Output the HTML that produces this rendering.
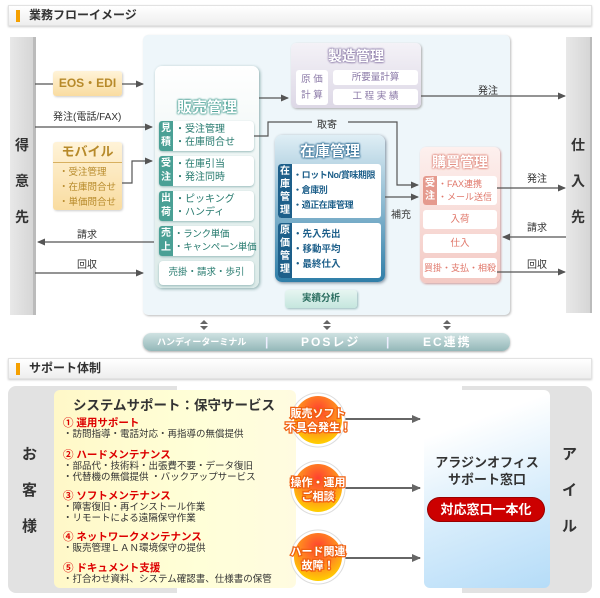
<!DOCTYPE html>
<html><head><meta charset="utf-8"><style>
*{margin:0;padding:0;box-sizing:border-box}
body{width:600px;height:598px;background:#fff;position:relative;overflow:hidden;font-family:"Liberation Sans","Noto Sans CJK JP",sans-serif;color:#333}
.a{position:absolute}
.hd{position:absolute;left:8px;width:584px;height:21px;background:linear-gradient(#fff,#eee);border:1px solid #e2e2e2;box-shadow:0 1px 2px #ccc;font-size:12px;font-weight:bold;line-height:19px;padding-left:20px;color:#333}
.hd:before{content:"";position:absolute;left:7px;top:4px;width:4px;height:12px;background:#f5a000}
.col{position:absolute;background:linear-gradient(90deg,#e8e8e8,#d6d6d6);border-right:3px solid #bbb;font-size:14px;font-weight:bold;text-align:center}
.t{position:absolute;font-size:10px;color:#333;white-space:nowrap}
.row{position:absolute;background:#fff;border-radius:4px;box-shadow:0 1px 2px #9bb;font-size:10px;color:#267a6e}
.lab{position:absolute;left:0;top:0;bottom:0;width:14px;background:#4aa095;color:#fff;font-size:10px;font-weight:bold;text-align:center;line-height:14px;padding-top:1px;border-radius:3px 0 0 3px}
.ttl{position:absolute;left:0;right:0;text-align:center;font-weight:bold;font-size:15px;color:#fff}
</style></head><body>

<div class="hd" style="top:5px">業務フローイメージ</div>

<div class="col" style="left:10px;top:37px;width:26px;height:278px;"><div class="a" style="left:5px;top:90px;line-height:36px">得<br>意<br>先</div></div>
<div class="col" style="left:566px;top:37px;width:26px;height:276px;border-right:2px solid #bbb"><div class="a" style="left:5px;top:90px;line-height:36px">仕<br>入<br>先</div></div>

<div class="a" style="left:143px;top:35px;width:367px;height:280px;background:#eef6fa;border-radius:5px;box-shadow:1px 1px 2px #bbb"></div>

<div class="a" style="left:53px;top:71px;width:69px;height:25px;background:linear-gradient(#fff3d8,#f9dca0);border-radius:3px;box-shadow:1px 1px 2px #ccc;color:#b78a2a;font-weight:bold;font-size:12px;text-align:center;line-height:25px">EOS・EDI</div>
<div class="a" style="left:53px;top:142px;width:69px;height:68px;background:linear-gradient(#fff3d8,#f9dca0);border-radius:3px;box-shadow:1px 1px 2px #ccc;color:#b78a2a;font-size:9.5px">
<div style="text-align:center;font-weight:bold;font-size:13px;line-height:20px;border-bottom:1px solid #d8b060">モバイル</div>
<div style="padding-left:6px;line-height:15px;padding-top:2px">・受注管理<br>・在庫問合せ<br>・単価問合せ</div></div>

<div class="t" style="left:53px;top:108px">発注(電話/FAX)</div>
<div class="t" style="left:77px;top:226px">請求</div>
<div class="t" style="left:77px;top:256px">回収</div>

<div class="a" style="left:155px;top:66px;width:104px;height:222px;background:linear-gradient(#fff,#dbeae8);border-radius:7px;box-shadow:1px 1px 3px #8aa"></div>
<div class="ttl" style="left:155px;width:104px;top:96px;color:#fff;text-shadow:0 0 2px #4aa095,0 0 2px #4aa095,0 0 2px #4aa095">販売管理</div>
<div class="row" style="left:159px;top:121px;width:95px;height:30px"><div class="lab">見<br>積</div><div style="padding-left:16px;line-height:13px;padding-top:2px">・受注管理<br>・在庫問合せ</div></div>
<div class="row" style="left:159px;top:156px;width:95px;height:30px"><div class="lab">受<br>注</div><div style="padding-left:16px;line-height:13px;padding-top:2px">・在庫引当<br>・発注同時</div></div>
<div class="row" style="left:159px;top:191px;width:95px;height:30px"><div class="lab">出<br>荷</div><div style="padding-left:16px;line-height:13px;padding-top:2px">・ピッキング<br>・ハンディ</div></div>
<div class="row" style="left:159px;top:226px;width:95px;height:30px"><div class="lab">売<br>上</div><div style="padding-left:15px;line-height:13px;padding-top:2px;white-space:nowrap;font-size:9.5px;letter-spacing:-0.3px">・ランク単価<br>・キャンペーン単価</div></div>
<div class="row" style="left:159px;top:261px;width:95px;height:24px;text-align:center;line-height:24px;font-size:9.5px">売掛・請求・歩引</div>

<div class="a" style="left:291px;top:43px;width:130px;height:65px;background:linear-gradient(#f4f2f7,#ddd8e6);border-radius:5px;box-shadow:1px 1px 2px #aaa"></div>
<div class="ttl" style="left:291px;width:130px;top:46px;font-size:14px;text-shadow:0 0 2px #8c7ba8,0 0 2px #8c7ba8,0 0 2px #8c7ba8">製造管理</div>
<div class="a" style="left:296px;top:70px;width:32px;height:35px;background:#fff;border-radius:3px;font-size:9.5px;color:#8c7ba8;text-align:center;line-height:16px;padding-top:2px">原 価<br>計 算</div>
<div class="a" style="left:333px;top:70px;width:85px;height:15px;background:#fff;border-radius:3px;font-size:9.5px;color:#8c7ba8;text-align:center;line-height:15px">所要量計算</div>
<div class="a" style="left:333px;top:89px;width:85px;height:16px;background:#fff;border-radius:3px;font-size:9.5px;color:#8c7ba8;text-align:center;line-height:16px">工 程 実 績</div>

<div class="a" style="left:275px;top:135px;width:110px;height:147px;background:linear-gradient(#dfeef5,#2f7ea8);border-radius:7px;box-shadow:1px 1px 3px #789"></div>
<div class="ttl" style="left:275px;width:110px;top:140px;font-size:15px;text-shadow:0 0 2px #1d5f8a,0 0 2px #1d5f8a,0 0 2px #1d5f8a">在庫管理</div>
<div class="a" style="left:278px;top:164px;width:103px;height:54px;background:#fff;border-radius:3px;font-size:9px;color:#1d5f8a;font-weight:bold;overflow:hidden">
<div class="lab" style="background:#1d5f8a;width:14px;line-height:13px">在<br>庫<br>管<br>理</div><div style="padding-left:15px;line-height:15px;padding-top:4px;white-space:nowrap;letter-spacing:-0.4px">・ロットNo/賞味期限<br>・倉庫別<br>・適正在庫管理</div></div>
<div class="a" style="left:278px;top:223px;width:103px;height:55px;background:#fff;border-radius:3px;font-size:9.5px;color:#1d5f8a;font-weight:bold">
<div class="lab" style="background:#1d5f8a;width:14px;line-height:13px">原<br>価<br>管<br>理</div><div style="padding-left:15px;line-height:15px;padding-top:4px">・先入先出<br>・移動平均<br>・最終仕入</div></div>

<div class="a" style="left:420px;top:147px;width:80px;height:136px;background:linear-gradient(#fdf0ee,#f3c9c3);border-radius:6px;box-shadow:1px 1px 2px #c99"></div>
<div class="ttl" style="left:420px;width:80px;top:152px;font-size:14px;text-shadow:0 0 2px #e08a7e,0 0 2px #e08a7e,0 0 2px #e08a7e">購買管理</div>
<div class="a" style="left:423px;top:176px;width:74px;height:29px;background:#fff;border-radius:3px;font-size:9px;color:#e0776a">
<div class="lab" style="background:#e59a8e;width:14px;line-height:13px">受<br>注</div><div style="padding-left:15px;line-height:13px;padding-top:2px;white-space:nowrap">・FAX連携<br>・メール送信</div></div>
<div class="a" style="left:423px;top:210px;width:74px;height:19px;background:#fff;border-radius:3px;font-size:9.5px;color:#e0776a;text-align:center;line-height:19px">入荷</div>
<div class="a" style="left:423px;top:234px;width:74px;height:19px;background:#fff;border-radius:3px;font-size:9.5px;color:#e0776a;text-align:center;line-height:19px">仕入</div>
<div class="a" style="left:423px;top:258px;width:74px;height:20px;background:#fff;border-radius:3px;font-size:9px;color:#e0776a;text-align:center;line-height:20px">買掛・支払・相殺</div>

<div class="a" style="left:285px;top:290px;width:72px;height:18px;background:linear-gradient(#e6f5f1,#c5e6de);border-radius:3px;box-shadow:1px 1px 2px #9bb;font-size:9.5px;font-weight:bold;color:#2b6e60;text-align:center;line-height:18px">実績分析</div>

<div class="t" style="left:478px;top:82px">発注</div>
<div class="t" style="left:317px;top:116px">取寄</div>
<div class="t" style="left:391px;top:206px">補充</div>
<div class="t" style="left:527px;top:170px">発注</div>
<div class="t" style="left:527px;top:219px">請求</div>
<div class="t" style="left:527px;top:256px">回収</div>

<div class="a" style="left:143px;top:333px;width:367px;height:18px;background:linear-gradient(#cfe2e2,#93b7b8);border-radius:8px;box-shadow:0 1px 2px #aaa;color:#fff;font-size:12px;font-weight:bold;letter-spacing:2px;line-height:18px">
<span class="a" style="left:14px;font-size:9px;letter-spacing:0">ハンディーターミナル</span>
<span class="a" style="left:122px;color:#eef">|</span>
<span class="a" style="left:158px">POSレジ</span>
<span class="a" style="left:243px;color:#eef">|</span>
<span class="a" style="left:280px">EC連携</span></div>

<svg class="a" style="left:0;top:0" width="600" height="360">
<defs><marker id="m" markerWidth="8" markerHeight="8" refX="7" refY="4" orient="auto" markerUnits="userSpaceOnUse"><path d="M0,0.5L8,4L0,7.5Z" fill="#555"/></marker></defs>
<g stroke="#555" stroke-width="1.2" fill="none">
<path d="M35,84H53" />
<path d="M122,84H143" marker-end="url(#m)"/>
<path d="M35,127H152" marker-end="url(#m)"/>
<path d="M122,183H132V161H152" marker-end="url(#m)"/>
<path d="M154,242H38" marker-end="url(#m)"/>
<path d="M35,273H143" marker-end="url(#m)"/>
<path d="M259,98H288" marker-end="url(#m)"/>
<path d="M421,96H565" marker-end="url(#m)"/>
<path d="M254,136H268V122H312M348,122H397V185H418" marker-end="url(#m)"/>
<path d="M385,197H418" marker-end="url(#m)"/>
<path d="M497,188H565" marker-end="url(#m)"/>
<path d="M566,237H503" marker-end="url(#m)"/>
<path d="M497,272H565" marker-end="url(#m)"/>
</g>
<g fill="#666">
<path d="M200,324L204,320L208,324ZM200,326L204,330L208,326Z"/>
<path d="M323,324L327,320L331,324ZM323,326L327,330L331,326Z"/>
<path d="M443,324L447,320L451,324ZM443,326L447,330L451,326Z"/>
</g>
</svg>

<div class="hd" style="top:358px">サポート体制</div>

<div class="a" style="left:8px;top:386px;width:584px;height:207px;background:#e2e2e2;border-radius:8px"></div>
<div class="a" style="left:177px;top:386px;width:285px;height:207px;background:#fff"></div>
<div class="a" style="left:22px;top:437px;font-size:15px;font-weight:bold;line-height:36px;color:#333">お<br>客<br>様</div>
<div class="a" style="left:562px;top:437px;font-size:15px;font-weight:bold;line-height:36px;color:#333">ア<br>イ<br>ル</div>

<div class="a" style="left:54px;top:390px;width:242px;height:198px;background:linear-gradient(90deg,#fff8c8,#ffffd8 60%,#fffbe0);border-radius:6px"></div>
<div class="a" style="left:54px;top:394px;width:240px;text-align:center;font-size:13.5px;font-weight:bold;color:#333">システムサポート：保守サービス</div>
<div class="a" style="left:63px;top:417px;font-size:9.5px;line-height:11px;color:#333;white-space:nowrap">
<div style="color:#d00;font-weight:bold;font-size:10.5px;line-height:12px">① 運用サポート</div>
<div>・訪問指導・電話対応・再指導の無償提供</div>
<div style="color:#d00;font-weight:bold;font-size:10.5px;line-height:12px;margin-top:9px">② ハードメンテナンス</div>
<div>・部品代・技術料・出張費不要・データ復旧</div>
<div>・代替機の無償提供 ・バックアップサービス</div>
<div style="color:#d00;font-weight:bold;font-size:10.5px;line-height:12px;margin-top:7px">③ ソフトメンテナンス</div>
<div>・障害復旧・再インストール作業</div>
<div>・リモートによる遠隔保守作業</div>
<div style="color:#d00;font-weight:bold;font-size:10.5px;line-height:12px;margin-top:7px">④ ネットワークメンテナンス</div>
<div>・販売管理ＬＡＮ環境保守の提供</div>
<div style="color:#d00;font-weight:bold;font-size:10.5px;line-height:12px;margin-top:8px">⑤ ドキュメント支援</div>
<div>・打合わせ資料、システム確認書、仕様書の保管</div>
</div>

<svg class="a" style="left:0;top:380px" width="600" height="218">
<defs><radialGradient id="g" cx="0.5" cy="0.3" r="0.7"><stop offset="0" stop-color="#ff4030"/><stop offset="0.55" stop-color="#ff8a20"/><stop offset="1" stop-color="#ffd000"/></radialGradient>
<marker id="m2" markerWidth="9" markerHeight="9" refX="8" refY="4.5" orient="auto" markerUnits="userSpaceOnUse"><path d="M0,0.5L9,4.5L0,8.5Z" fill="#666"/></marker></defs>
<g stroke="#666" stroke-width="2" fill="none">
<path d="M340,39H420" marker-end="url(#m2)"/>
<path d="M340,108H420" marker-end="url(#m2)"/>
<path d="M340,178H420" marker-end="url(#m2)"/>
</g>
<circle cx="318" cy="40" r="27" fill="#fff" stroke="#ddd"/><circle cx="318" cy="40" r="24" fill="url(#g)"/>
<circle cx="318" cy="108" r="27" fill="#fff" stroke="#ddd"/><circle cx="318" cy="108" r="24" fill="url(#g)"/>
<circle cx="318" cy="177" r="27" fill="#fff" stroke="#ddd"/><circle cx="318" cy="177" r="24" fill="url(#g)"/>
<g font-family="Liberation Sans,Noto Sans CJK JP,sans-serif" font-size="11" font-weight="bold" fill="#fff" stroke="#f06010" stroke-width="2.5" paint-order="stroke" text-anchor="middle">
<text x="318" y="37">販売ソフト</text><text x="318" y="51">不具合発生！</text>
<text x="318" y="106">操作・運用</text><text x="318" y="120">ご相談</text>
<text x="318" y="175">ハード関連</text><text x="318" y="189">故障！</text>
</g>
</svg>

<div class="a" style="left:424px;top:390px;width:126px;height:198px;background:linear-gradient(160deg,#fff 20%,#d6ecfb 60%,#b5dcf8);border-radius:6px"></div>
<div class="a" style="left:424px;top:454px;width:126px;text-align:center;font-size:13px;font-weight:bold;line-height:17px;color:#333">アラジンオフィス<br>サポート窓口</div>
<div class="a" style="left:428px;top:498px;width:116px;height:23px;background:#c00;border-radius:12px;color:#fff;font-weight:bold;font-size:13px;text-align:center;line-height:23px;box-shadow:0 0 0 1px #900">対応窓口一本化</div>

</body></html>
